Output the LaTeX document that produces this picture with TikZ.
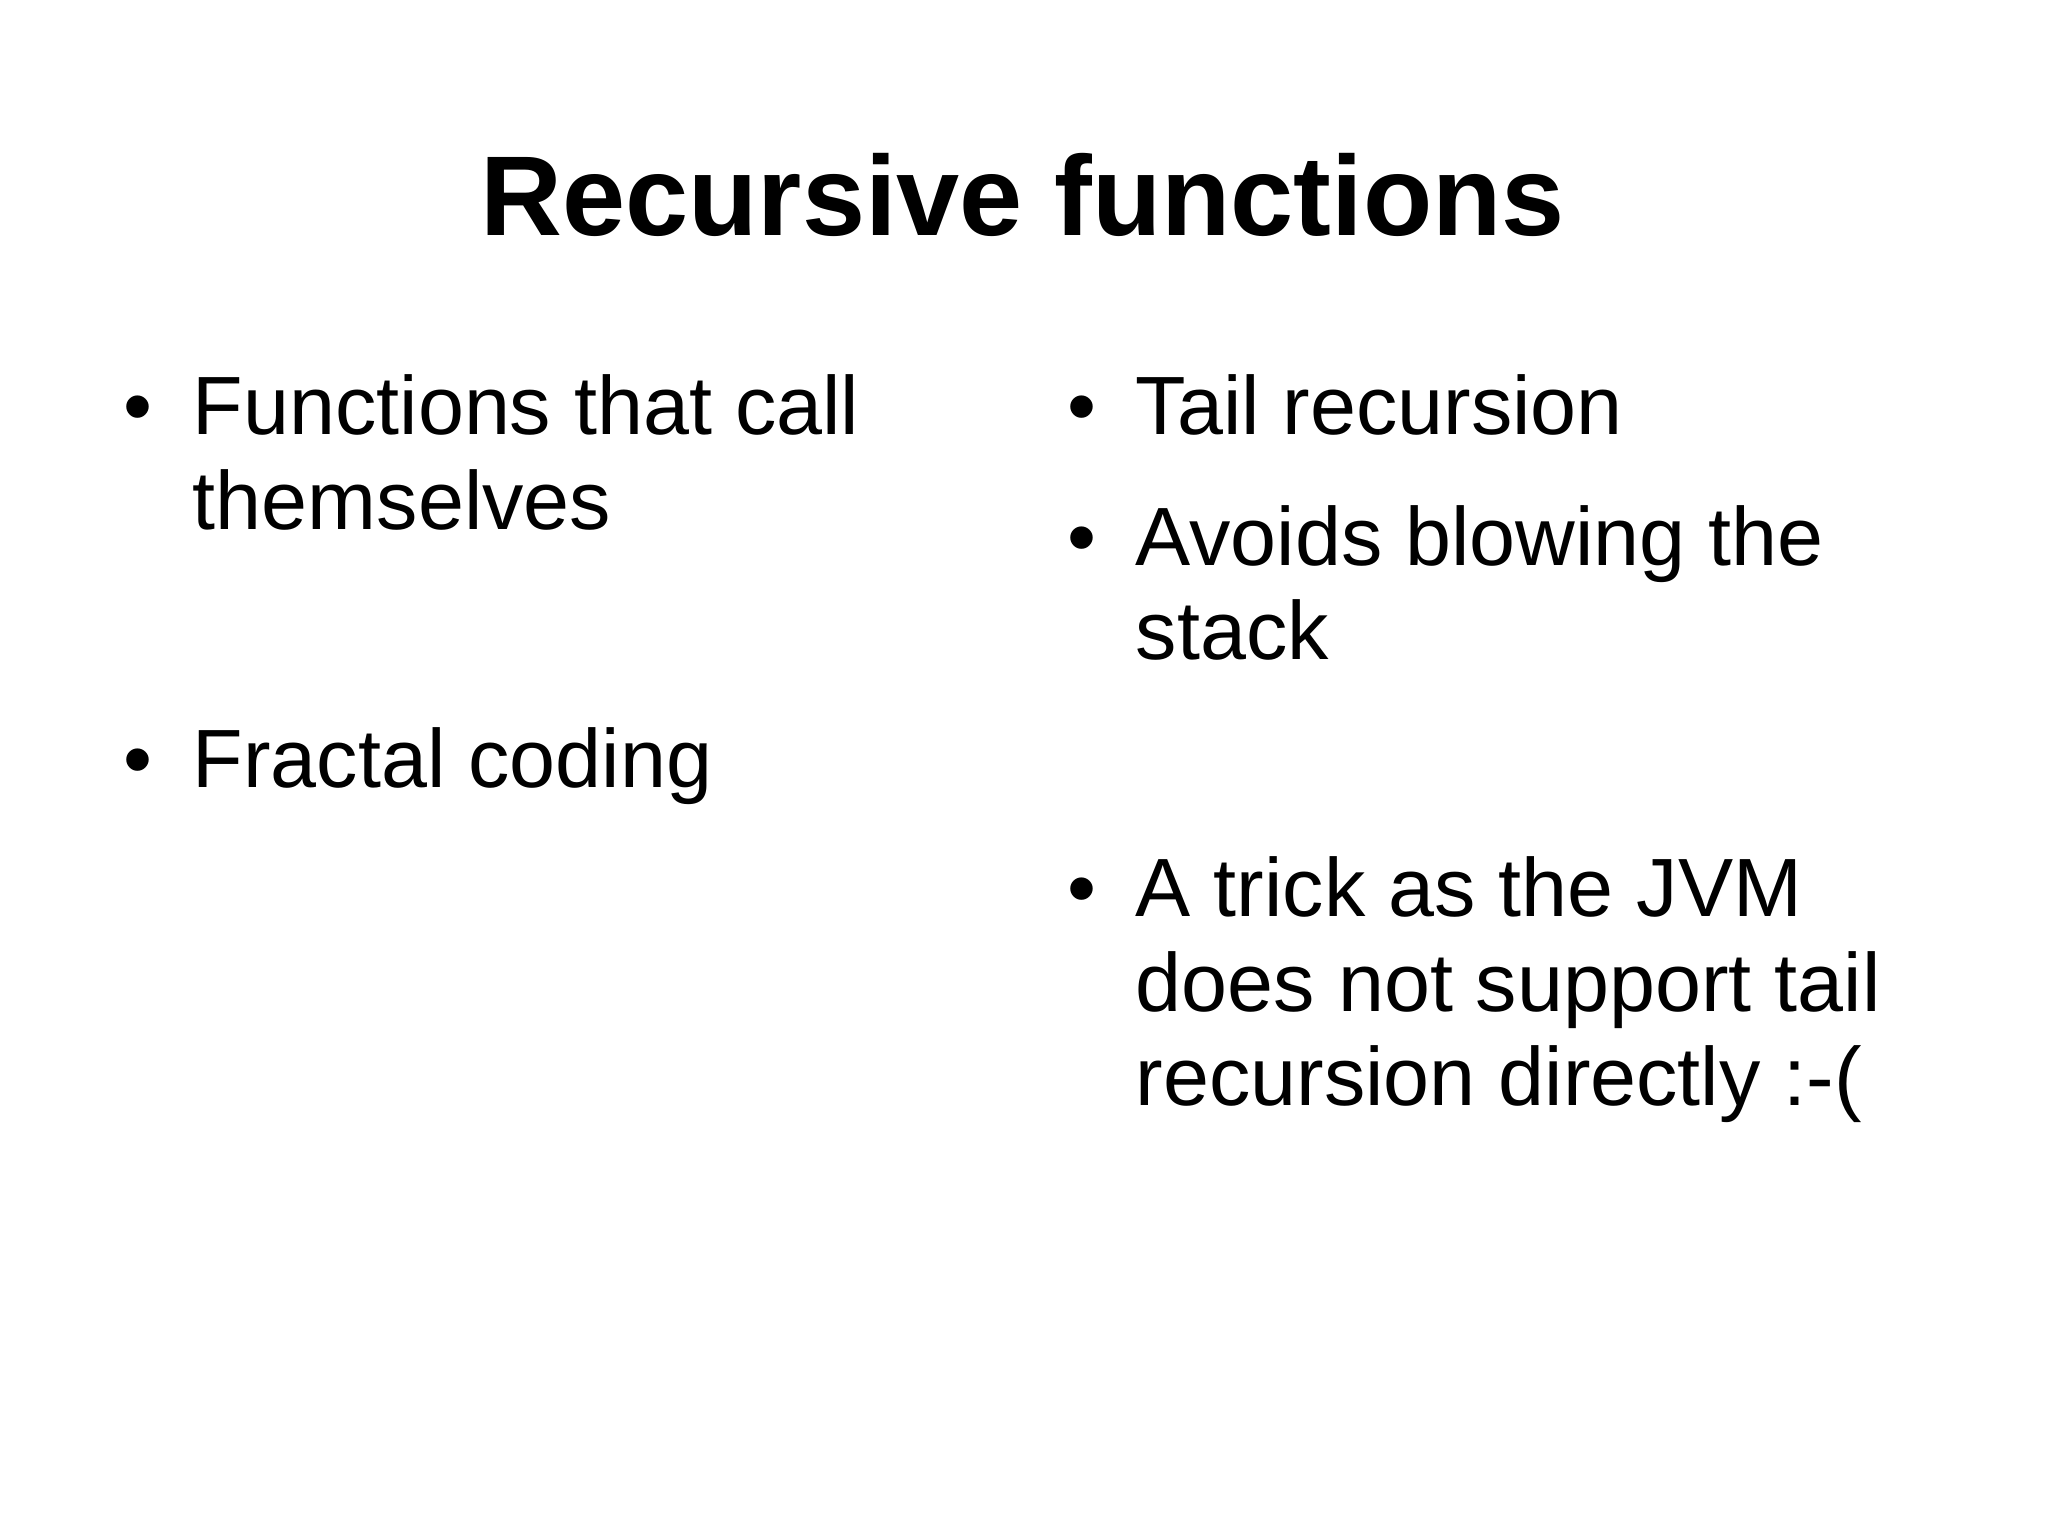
\documentclass[tikz,border=0pt]{standalone}
\usepackage{fontspec}
\setmainfont{Liberation Sans}
\newcommand{\mylines}[1]{\begin{tabular}[t]{@{}l@{}}#1\end{tabular}}
\begin{document}
\begin{tikzpicture}[x=0.01cm,y=-0.01cm,
  body/.style={anchor=base west,inner sep=0pt,font=\fontsize{18}{20.5}\selectfont},
  bul/.style={anchor=base,inner sep=0pt,font=\fontsize{18}{20.5}\selectfont}]
\useasboundingbox (0,0) rectangle (1568,1175);
\node[anchor=base,inner sep=0pt,font=\fontsize{24.7}{30}\selectfont\bfseries] (title) at (783,180) {Recursive functions};
\node[bul] (b1) at (106,333) {•};
\node[body] (t1) at (147,333) {\mylines{Functions that call\\themselves}};
\node[bul] (b2) at (106,603) {•};
\node[body] (t2) at (147,603) {Fractal coding};
\node[bul] (b3) at (828,333) {•};
\node[body] (t3) at (869,333) {Tail recursion};
\node[bul] (b4) at (828,433) {•};
\node[body] (t4) at (869,433) {\mylines{Avoids blowing the\\stack}};
\node[bul] (b5) at (828,702) {•};
\node[body] (t5) at (869,702) {\mylines{A trick as the JVM\\does not support tail\\recursion directly :-(}};
\end{tikzpicture}
\end{document}
